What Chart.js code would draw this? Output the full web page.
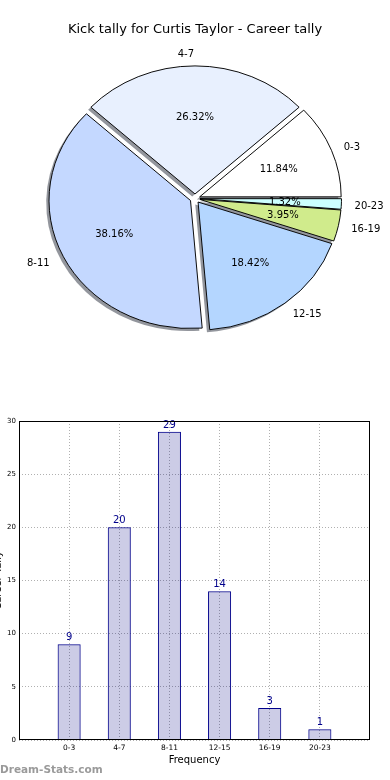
<!DOCTYPE html>
<html>
<head>
<meta charset="utf-8">
<script src="https://cdn.jsdelivr.net/npm/chart.js@4.4.0/dist/chart.umd.min.js"></script>
<style>
  html, body { margin: 0; padding: 0; background: #fff; }
  body { width: 390px; height: 780px; position: relative; overflow: hidden; }
  #pie-chart { position: absolute; left: 0; top: 0; }
  #bar-chart { position: absolute; left: 0; top: 390px; }
  #watermark { position: absolute; left: 0; top: 763px; font: bold 10.5px "DejaVu Sans", sans-serif; color: #9a9a9a; }
</style>
</head>
<body>
<canvas id="pie-chart" width="390" height="390"></canvas>
<canvas id="bar-chart" width="390" height="390"></canvas>
<div id="watermark">Dream-Stats.com</div>
<script>
const chartTitle = 'Kick tally for Curtis Taylor - Career tally';
const categories = ['0-3', '4-7', '8-11', '12-15', '16-19', '20-23'];
const tallies = [9, 20, 29, 14, 3, 1];
const yTicks = [0, 5, 10, 15, 20, 25, 30];
const sliceColors = ['#ffffff', '#e8f0fe', '#c4d8ff', '#b4d6ff', '#d0eb8c', '#ccffff'];
const xTitle = 'Frequency';
const yTitle = 'Career Tally';

const FONT = '"DejaVu Sans", sans-serif';
const SQUASH = 0.905;   // pie is drawn a bit flatter than a circle
const EXPLODE = 5;
const total = tallies.reduce((a, b) => a + b, 0);

// pie goes counter-clockwise from 3 o'clock, so feed chart.js the reverse
const pieLabels = categories.slice().reverse();
const pieValues = tallies.slice().reverse();
const pieColors = sliceColors.slice().reverse();

function pieCenter(chart) {
  const a = chart.chartArea;
  return { cx: (a.left + a.right) / 2, cy: (a.top + a.bottom) / 2 };
}

const pieDecor = {
  id: 'pieDecor',
  // push every slice out a little along its middle angle
  afterDatasetUpdate(chart) {
    chart.getDatasetMeta(0).data.forEach(arc => {
      const mid = (arc.startAngle + arc.endAngle) / 2;
      arc.x += Math.cos(mid) * EXPLODE;
      arc.y += Math.sin(mid) * EXPLODE;
    });
  },
  beforeDatasetsDraw(chart) {
    const ctx = chart.ctx;
    const arcs = chart.getDatasetMeta(0).data;
    const { cx, cy } = pieCenter(chart);
    ctx.save();
    ctx.translate(cx, cy);
    ctx.scale(1, SQUASH);
    ctx.translate(-cx, -cy);
    // shadows under every slice
    ctx.save();
    ctx.fillStyle = 'rgba(40, 45, 60, 0.5)';
    arcs.forEach(arc => {
      const ox = arc.x - 2.8;
      const oy = arc.y + 2.8;
      ctx.beginPath();
      ctx.moveTo(ox, oy);
      ctx.arc(ox, oy, arc.outerRadius, arc.startAngle, arc.endAngle);
      ctx.closePath();
      ctx.fill();
    });
    ctx.restore();
  },
  afterDatasetsDraw(chart) {
    const ctx = chart.ctx;
    ctx.restore();
    const arcs = chart.getDatasetMeta(0).data;
    const { cy } = pieCenter(chart);
    ctx.save();
    ctx.fillStyle = '#000';
    ctx.font = '10px ' + FONT;
    ctx.textBaseline = 'middle';
    arcs.forEach((arc, i) => {
      const mid = (arc.startAngle + arc.endAngle) / 2;
      const c = Math.cos(mid), s = Math.sin(mid);
      const r = arc.outerRadius;
      const ay = cy + (arc.y - cy) * SQUASH;
      const pct = (pieValues[i] / total * 100).toFixed(2) + '%';
      ctx.textAlign = 'center';
      ctx.fillText(pct, arc.x + c * 0.6 * r, ay + SQUASH * s * 0.6 * r + 0.5);
      ctx.textAlign = c > 1e-6 ? 'left' : 'right';
      ctx.fillText(pieLabels[i], arc.x + c * 1.1 * r - 1, ay + SQUASH * s * 1.1 * r + 1.5);
    });
    ctx.restore();
  },
  afterDraw(chart) {
    const ctx = chart.ctx;
    ctx.save();
    ctx.fillStyle = '#000';
    ctx.font = '13px ' + FONT;
    ctx.textAlign = 'center';
    ctx.textBaseline = 'middle';
    ctx.fillText(chartTitle, 195, 30);
    ctx.restore();
  }
};

new Chart(document.getElementById('pie-chart'), {
  type: 'pie',
  data: {
    labels: pieLabels,
    datasets: [{
      data: pieValues,
      backgroundColor: pieColors,
      borderColor: '#000',
      borderWidth: 1,
      radius: 141.5,
      clip: false,
    }],
  },
  options: {
    responsive: false,
    animation: false,
    events: [],
    rotation: 90,
    layout: { padding: { top: 7, bottom: 0, left: 0, right: 0 } },
    plugins: { legend: { display: false }, tooltip: { enabled: false } },
  },
  plugins: [pieDecor],
});

const barDecor = {
  id: 'barDecor',
  afterDatasetsDraw(chart) {
    const ctx = chart.ctx;
    const bars = chart.getDatasetMeta(0).data;
    ctx.save();
    ctx.font = '10px ' + FONT;
    ctx.fillStyle = '#00008b';
    ctx.textAlign = 'center';
    ctx.textBaseline = 'bottom';
    bars.forEach((bar, i) => ctx.fillText(String(tallies[i]), bar.x, bar.y - 1.5));
    ctx.restore();
  },
  afterDraw(chart) {
    const { ctx, chartArea: a } = chart;
    ctx.save();
    ctx.strokeStyle = '#000';
    ctx.lineWidth = 1;
    ctx.strokeRect(Math.round(a.left) + 0.5, Math.round(a.top) + 0.5,
      Math.round(a.right - a.left) - 1, Math.round(a.bottom - a.top) - 1);
    ctx.fillStyle = '#000';
    ctx.font = '10px ' + FONT;
    ctx.textAlign = 'center';
    ctx.textBaseline = 'middle';
    ctx.fillText(xTitle, (a.left + a.right) / 2, 370);
    ctx.translate(-2, (a.top + a.bottom) / 2);
    ctx.rotate(-Math.PI / 2);
    ctx.fillText(yTitle, 0, 0);
    ctx.restore();
  }
};

new Chart(document.getElementById('bar-chart'), {
  type: 'bar',
  data: {
    datasets: [{
      data: tallies.map((v, i) => ({ x: i, y: v })),
      backgroundColor: 'rgba(0, 0, 128, 0.2)',
      borderColor: '#00008b',
      borderWidth: 1,
      barPercentage: 0.46,
      categoryPercentage: 1,
    }],
  },
  options: {
    responsive: false,
    animation: false,
    events: [],
    layout: { padding: { top: 31, right: 20, left: 0, bottom: 0 } },
    plugins: { legend: { display: false }, tooltip: { enabled: false } },
    scales: {
      x: {
        type: 'linear',
        min: -1,
        max: 6,
        offset: false,
        afterBuildTicks: s => { s.ticks = categories.map((c, i) => ({ value: i })); },
        afterFit: s => { s.height = 40; },
        grid: { color: '#b0b0b0', drawTicks: false, offset: false },
        border: { display: false, dash: [1, 2] },
        ticks: { callback: v => categories[v], color: '#000', font: { size: 7.5, family: FONT }, padding: 4, maxRotation: 0 },
      },
      y: {
        min: 0,
        max: 30,
        afterBuildTicks: s => { s.ticks = yTicks.map(v => ({ value: v })); },
        afterFit: s => { s.width = 19; },
        grid: { color: '#b0b0b0', drawTicks: false },
        border: { display: false, dash: [1, 2] },
        ticks: { color: '#000', font: { size: 7, family: FONT }, padding: 3 },
      },
    },
  },
  plugins: [barDecor],
});
</script>
</body>
</html>
